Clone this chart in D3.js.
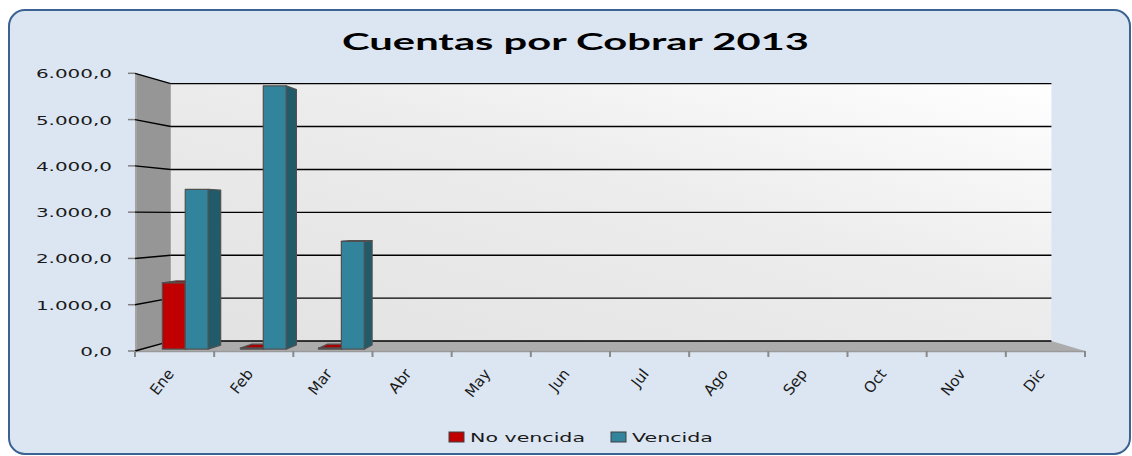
<!DOCTYPE html>
<html>
<head>
<meta charset="utf-8">
<script src="https://cdn.jsdelivr.net/npm/d3@7/dist/d3.min.js"></script>
<style>
  html, body { margin: 0; padding: 0; background: #ffffff; }
  svg { display: block; }
</style>
</head>
<body>
<svg id="chart" width="1132" height="456"></svg>
<script>
// ---- data ----
const months = ["Ene","Feb","Mar","Abr","May","Jun","Jul","Ago","Sep","Oct","Nov","Dic"];
const seriesNames = ["No vencida","Vencida"];
const noVencida = [1450, 20, 20, null, null, null, null, null, null, null, null, null];
const vencida   = [3500, 5770, 2360, null, null, null, null, null, null, null, null, null];
const yTicks = [0, 1000, 2000, 3000, 4000, 5000, 6000];
const title = "Cuentas por Cobrar 2013";

// ---- styles ----
const seriesFill  = { "No vencida": "#C00000", "Vencida": "#31849B" };
const seriesSide  = { "No vencida": "#8E0000", "Vencida": "#215A69" };
const seriesTop   = { "No vencida": "#A80000", "Vencida": "#4A9BB0" };

const svg = d3.select("#chart");

// frame
svg.append("rect")
  .attr("x", 9).attr("y", 10).attr("width", 1121).attr("height", 444)
  .attr("rx", 16).attr("ry", 16)
  .attr("fill", "#DCE6F2").attr("stroke", "#3A6293").attr("stroke-width", 2);

// ---- scales ----
const x = d3.scaleBand().domain(months).range([135, 1085]).padding(0);
const bw = x.bandwidth();
const xs = d3.scaleBand().domain(seriesNames).range([0.263 * bw, 0.849 * bw]).padding(0);
const y = d3.scaleLinear().domain([0, 6000]).range([351, 73.3]);

// perspective projection
const CX = 625, CY = 215, A = 1 / 0.927 - 1;
function proj(wx, wy, z) {
  const s = 1 / (1 + A * z);
  return [CX + (wx - CX) * s, CY + (wy - CY) * s];
}
function poly(pts) { return pts.map(p => p.join(",")).join(" "); }

const defs = svg.append("defs");
const grad = defs.append("linearGradient").attr("id", "wallGrad")
  .attr("x1", "0%").attr("y1", "100%").attr("x2", "100%").attr("y2", "0%");
grad.append("stop").attr("offset", "0%").attr("stop-color", "#E2E2E2");
grad.append("stop").attr("offset", "55%").attr("stop-color", "#ECECEC");
grad.append("stop").attr("offset", "100%").attr("stop-color", "#FFFFFF");

const xL = x.range()[0], xR = x.range()[1];
const y0 = y(0), yTop = y(6000);

// back wall
svg.append("polygon")
  .attr("points", poly([proj(xL, yTop, 1), proj(xR, yTop, 1), proj(xR, y0, 1), proj(xL, y0, 1)]))
  .attr("fill", "url(#wallGrad)");

// left wall
svg.append("polygon")
  .attr("points", poly([proj(xL, yTop, 0), proj(xL, yTop, 1), proj(xL, y0, 1), proj(xL, y0, 0)]))
  .attr("fill", "#969696");
svg.append("line")
  .attr("x1", xL + 1).attr("x2", xL + 1).attr("y1", yTop).attr("y2", y0)
  .attr("stroke", "#A4A4A4").attr("stroke-width", 2);

// floor
svg.append("polygon")
  .attr("points", poly([proj(xL, y0, 0), proj(xR, y0, 0), proj(xR, y0, 1), proj(xL, y0, 1)]))
  .attr("fill", "#ACACAC");
svg.append("line")
  .attr("x1", xL).attr("x2", xR).attr("y1", y0 + 0.5).attr("y2", y0 + 0.5)
  .attr("stroke", "#9A9A9A").attr("stroke-width", 1.5);

// gridlines (back wall + left wall)
const grid = svg.append("g");
yTicks.forEach(v => {
  const a = proj(xL, y(v), 1), b = proj(xR, y(v), 1), f = proj(xL, y(v), 0);
  grid.append("line").attr("x1", a[0]).attr("y1", a[1]).attr("x2", b[0]).attr("y2", b[1])
    .attr("stroke", "#000").attr("stroke-width", 1.4);
  grid.append("line").attr("x1", f[0]).attr("y1", f[1]).attr("x2", a[0]).attr("y2", a[1])
    .attr("stroke", "#000").attr("stroke-width", 1.4);
});

// y axis ticks + labels
const fmt = d3.formatLocale({ decimal: ",", thousands: ".", grouping: [3], currency: ["", ""] }).format(",.1f");
const yAxis = svg.append("g");
yTicks.forEach(v => {
  yAxis.append("line").attr("x1", 128).attr("x2", xL).attr("y1", y(v)).attr("y2", y(v))
    .attr("stroke", "#808080").attr("stroke-width", 1.5);
});
const yLab = yAxis.selectAll("text.ylab").data(yTicks).join("text")
  .attr("class", "ylab")
  .attr("x", 112).attr("y", d => y(d) + 5)
  .attr("text-anchor", "end")
  .attr("font-family", "DejaVu Sans").attr("font-size", 12).attr("fill", "#1a1a1a")
  .text(d => fmt(d));

function stretch(sel, f) {
  sel.each(function () {
    const L = this.getComputedTextLength();
    this.setAttribute("textLength", L * f);
    this.setAttribute("lengthAdjust", "spacingAndGlyphs");
  });
}
stretch(yLab, 1.66);

// x axis ticks
months.concat(["_end"]).forEach((m, i) => {
  const xx = i < months.length ? x(m) : xR;
  svg.append("line").attr("x1", xx).attr("x2", xx).attr("y1", y0).attr("y2", y0 + 6)
    .attr("stroke", "#8A8A8A").attr("stroke-width", 2);
});

// month labels
svg.append("g").selectAll("text").data(months).join("text")
  .attr("transform", d => `translate(${x(d) + bw / 2},${374}) rotate(-52)`)
  .attr("text-anchor", "end")
  .attr("font-family", "DejaVu Sans").attr("font-size", 15).attr("fill", "#1a1a1a")
  .text(d => d);

// ---- bars ----
const Z0 = 0.18, Z1 = 0.58;
const bars = [];
months.forEach((m, i) => {
  [[seriesNames[0], noVencida[i]], [seriesNames[1], vencida[i]]].forEach(([s, v]) => {
    if (v == null) return;
    const x0 = x(m) + xs(s), x1 = x0 + xs.bandwidth();
    bars.push({ s, v, x0, x1 });
  });
});
bars.sort((a, b) => Math.abs((b.x0 + b.x1) / 2 - CX) - Math.abs((a.x0 + a.x1) / 2 - CX));

const gBars = svg.append("g");
bars.forEach(d => {
  const yt = y(d.v), yb = y(0);
  const g = gBars.append("g").attr("stroke", "#505050").attr("stroke-width", 1.2).attr("stroke-linejoin", "round");
  const sx = d.x1 < CX ? d.x1 : d.x0;
  g.append("polygon")
    .attr("points", poly([proj(sx, yt, Z0), proj(sx, yt, Z1), proj(sx, yb, Z1), proj(sx, yb, Z0)]))
    .attr("fill", seriesSide[d.s]);
  if (yt > CY) {
    g.append("polygon")
      .attr("points", poly([proj(d.x0, yt, Z0), proj(d.x1, yt, Z0), proj(d.x1, yt, Z1), proj(d.x0, yt, Z1)]))
      .attr("fill", seriesTop[d.s]);
  }
  g.append("polygon")
    .attr("points", poly([proj(d.x0, yt, Z0), proj(d.x1, yt, Z0), proj(d.x1, yb, Z0), proj(d.x0, yb, Z0)]))
    .attr("fill", seriesFill[d.s]);
});

// title
const t = svg.append("text")
  .attr("x", 575.5).attr("y", 50).attr("text-anchor", "middle")
  .attr("font-family", "Lato").attr("font-weight", "bold").attr("font-size", 22)
  .attr("fill", "#000").text(title);
t.attr("textLength", 467).attr("lengthAdjust", "spacingAndGlyphs");

// legend
const legendPos = [{ s: "No vencida", rx: 449, tx: 470, w: 115 }, { s: "Vencida", rx: 611, tx: 632, w: 81 }];
const lg = svg.append("g");
legendPos.forEach(p => {
  lg.append("rect").attr("x", p.rx).attr("y", 432).attr("width", 15).attr("height", 10)
    .attr("fill", seriesFill[p.s]).attr("stroke", "#404040").attr("stroke-width", 1);
  lg.append("text").attr("x", p.tx).attr("y", 442)
    .attr("font-family", "DejaVu Sans").attr("font-size", 13).attr("fill", "#1a1a1a")
    .attr("textLength", p.w).attr("lengthAdjust", "spacingAndGlyphs")
    .text(p.s);
});
</script>
</body>
</html>
